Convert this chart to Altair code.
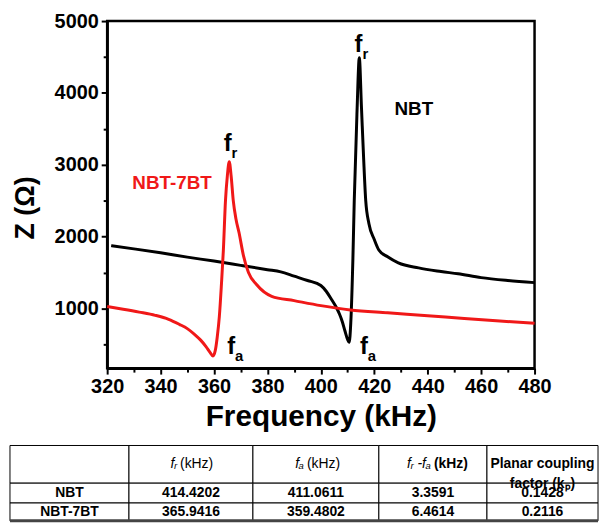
import altair as alt
import pandas as pd

FONT = "Liberation Sans"

# ---------------- impedance spectra ----------------
nbt_freq = [321.5, 330, 340, 350, 360, 370, 380, 385, 390, 395,
            400, 402, 404, 406, 407, 408, 409, 410, 410.6, 411.2,
            412, 412.5, 413.5, 414.4, 415.2, 416, 416.8, 418, 420, 421.7,
            425, 429, 436.6, 445, 451.4, 460, 470, 480]
nbt_z = [1875, 1830, 1775, 1715, 1660, 1600, 1540, 1510, 1450, 1390,
         1320, 1240, 1125, 1000, 920, 820, 690, 570, 530, 800,
         1700, 2500, 3700, 4490, 3800, 3100, 2500, 2180, 1960, 1815,
         1720, 1635, 1565, 1515, 1483, 1430, 1390, 1360]

bt7_freq = [320, 326, 332, 338, 343, 347, 350, 352.7, 355, 357,
            358.5, 359.6, 360.5, 361.2, 362, 362.8, 363.5, 364.3, 365, 365.7,
            366.4, 367.2, 368.2, 369.4, 371, 372.9, 376, 381.6, 390, 400,
            411, 425, 440, 453.7, 467, 480]
bt7_z = [1027, 990, 950, 905, 850, 780, 720, 640, 560, 470,
         390, 340, 420, 600, 890, 1350, 1810, 2505, 2850, 3043,
         2850, 2505, 2250, 2050, 1740, 1500, 1330, 1170, 1110, 1040,
         980, 940, 900, 860, 825, 795]

samples = ["NBT", "NBT-7BT"]
sample_colors = ["#000000", "#f01818"]

x_major = [320, 340, 360, 380, 400, 420, 440, 460, 480]
x_minor = [330, 350, 370, 390, 410, 430, 450, 470]
y_major = [1000, 2000, 3000, 4000, 5000]
y_minor = [500, 1500, 2500, 3500, 4500]

# sample name labels
name_text = ["NBT", "NBT-7BT"]
name_freq = [434.8, 344.3]
name_z = [3775, 2739]

# resonance / antiresonance labels ("f" + subscript)
peak_freq = [414.1, 365.1, 416.1, 366.4]
peak_z = [4666, 3285, 467, 460]
peak_sub = ["r", "r", "a", "a"]

# ---------------- table ----------------
table_header = ["", "fᵣ", "fₐ", "fᵣ -fₐ", "Planar coupling\nfactor (kₚ)"]
table_rows = ["NBT", "NBT-7BT"]
fr_vals = ["414.4202", "365.9416"]
fa_vals = ["411.0611", "359.4802"]
diff_vals = ["3.3591", "6.4614"]
kp_vals = ["0.1428", "0.2116"]

# relative cell widths / heights of the table grid
col_units = [120, 125, 127, 109, 112]
row_units = [38, 20, 18]

# ---------------- plot ----------------
lines_df = pd.DataFrame({
    "freq": nbt_freq + bt7_freq,
    "z": nbt_z + bt7_z,
    "sample": ["NBT"] * len(nbt_freq) + ["NBT-7BT"] * len(bt7_freq),
})
names_df = pd.DataFrame({"freq": name_freq, "z": name_z, "sample": name_text})
peaks_df = pd.DataFrame({"freq": peak_freq, "z": peak_z, "sub": peak_sub, "f": ["f"] * 4})

PLOT_W, PLOT_H = 431, 350
xscale = alt.Scale(domain=[320, 480], nice=False, zero=False)
yscale = alt.Scale(domain=[170, 5000], nice=False, zero=False)
color = alt.Color("sample:N", scale=alt.Scale(domain=samples, range=sample_colors), legend=None)

x_axis = alt.Axis(values=x_major, format="d", orient="bottom", title="Frequency (kHz)",
                  labelFont=FONT, labelFontSize=20, labelFontWeight="bold", labelColor="black",
                  labelFlush=False, labelPadding=3,
                  titleFont=FONT, titleFontSize=30, titleFontWeight="bold", titleColor="black",
                  titlePadding=5, tickSize=6, tickWidth=2, tickColor="black",
                  domainColor="black", domainWidth=2.5, grid=False)
y_axis = alt.Axis(values=y_major, format="d", orient="left", title="Z (Ω)",
                  labelFont=FONT, labelFontSize=20, labelFontWeight="bold", labelColor="black",
                  labelFlush=False, labelPadding=3,
                  titleFont=FONT, titleFontSize=27, titleFontWeight="bold", titleColor="black",
                  titlePadding=15, titleY=188, tickSize=6, tickWidth=2, tickColor="black",
                  domainColor="black", domainWidth=2.5, grid=False)
x_minor_axis = alt.Axis(values=x_minor, orient="bottom", labels=False, title=None, domain=False,
                        tickSize=4, tickWidth=2, tickColor="black", grid=False)
y_minor_axis = alt.Axis(values=y_minor, orient="left", labels=False, title=None, domain=False,
                        tickSize=4, tickWidth=2, tickColor="black", grid=False)

lines = alt.Chart(lines_df).mark_line(strokeWidth=3, interpolate="monotone").encode(
    x=alt.X("freq:Q", scale=xscale, axis=x_axis),
    y=alt.Y("z:Q", scale=yscale, axis=y_axis),
    color=color,
    detail="sample:N",
)
minor = alt.Chart(lines_df).mark_line(opacity=0).encode(
    x=alt.X("freq:Q", scale=xscale, axis=x_minor_axis),
    y=alt.Y("z:Q", scale=yscale, axis=y_minor_axis),
    detail="sample:N",
)
names = alt.Chart(names_df).mark_text(font=FONT, fontSize=19, fontWeight="bold").encode(
    x=alt.X("freq:Q", scale=xscale, axis=None),
    y=alt.Y("z:Q", scale=yscale, axis=None),
    text="sample:N",
    color=color,
)
f_main = alt.Chart(peaks_df).mark_text(font=FONT, fontSize=24, fontWeight="bold", color="black").encode(
    x=alt.X("freq:Q", scale=xscale, axis=None),
    y=alt.Y("z:Q", scale=yscale, axis=None),
    text="f:N",
)
f_sub = alt.Chart(peaks_df).mark_text(font=FONT, fontSize=15, fontWeight="bold", color="black",
                                      align="left", dx=4, dy=9).encode(
    x=alt.X("freq:Q", scale=xscale, axis=None),
    y=alt.Y("z:Q", scale=yscale, axis=None),
    text="sub:N",
)

plot = alt.layer(lines, minor, names, f_main, f_sub).resolve_axis(
    x="independent", y="independent"
)

# ---------------- table (drawn below the plot area) ----------------
col_edges = [sum(col_units[:i]) for i in range(len(col_units) + 1)]
row_edges = [sum(row_units[:i]) for i in range(len(row_units) + 1)]
cells = []
for r in range(len(row_units)):
    for c in range(len(col_units)):
        cells.append({"x0": col_edges[c], "x1": col_edges[c + 1],
                      "y0": row_edges[r], "y1": row_edges[r + 1]})
cells_df = pd.DataFrame(cells)
centers = [(col_edges[c] + col_edges[c + 1]) / 2 for c in range(len(col_units))]
row_mid = [(row_edges[r] + row_edges[r + 1]) / 2 for r in range(len(row_units))]

body = []
for i, name in enumerate(table_rows):
    for c, v in enumerate([name, fr_vals[i], fa_vals[i], diff_vals[i], kp_vals[i]]):
        body.append({"cx": centers[c], "cy": row_mid[i + 1], "t": v})
body_df = pd.DataFrame(body)

# header pieces: italic symbol part and "(kHz)" part
split_shift = [-12, -10, 0]
hdr_ital = pd.DataFrame({"cx": [centers[c + 1] + split_shift[c] - 2 for c in range(3)],
                         "cy": [row_mid[0]] * 3, "t": table_header[1:4]})
hdr_unit = pd.DataFrame({"cx": [centers[c + 1] + split_shift[c] + 1 for c in range(2)],
                         "cy": [row_mid[0]] * 2, "t": ["(kHz)"] * 2})
hdr_unit_b = pd.DataFrame({"cx": [centers[3] + split_shift[2] + 1], "cy": [row_mid[0]], "t": ["(kHz)"]})
hdr_kp = pd.DataFrame({"cx": [centers[4]], "cy": [row_mid[0]], "t": [table_header[4]]})

# table placement relative to the plot area (left edge of page margin, below the x title)
TABLE_LEFT, TABLE_TOP = -98, 428
tx = alt.Scale(domain=[0, col_edges[-1]], range=[TABLE_LEFT, TABLE_LEFT + col_edges[-1]], nice=False, zero=False)
ty = alt.Scale(domain=[0, row_edges[-1]], range=[TABLE_TOP, TABLE_TOP + row_edges[-1]], nice=False, zero=False)

rects = alt.Chart(cells_df).mark_rect(fill="white", stroke="black", strokeWidth=1).encode(
    x=alt.X("x0:Q", scale=tx, axis=None), x2="x1:Q",
    y=alt.Y("y0:Q", scale=ty, axis=None), y2="y1:Q",
)
bottom_line = alt.Chart(pd.DataFrame({"x0": [col_edges[0]], "x1": [col_edges[-1]], "y": [row_edges[-1]]})).mark_rule(
    color="#444444", strokeWidth=3).encode(
    x=alt.X("x0:Q", scale=tx, axis=None), x2="x1:Q",
    y=alt.Y("y:Q", scale=ty, axis=None),
)


def txt(df, **kw):
    return alt.Chart(df).mark_text(font=FONT, fontSize=14, color="black", **kw).encode(
        x=alt.X("cx:Q", scale=tx, axis=None),
        y=alt.Y("cy:Q", scale=ty, axis=None),
        text="t:N",
    )


table = alt.layer(
    rects, bottom_line,
    txt(body_df, fontWeight="bold"),
    txt(hdr_ital, fontStyle="italic", align="right"),
    txt(hdr_unit, align="left"),
    txt(hdr_unit_b, align="left", fontWeight="bold"),
    txt(hdr_kp, fontWeight="bold", lineBreak="\n", lineHeight=20),
)

chart = alt.layer(plot, table).resolve_scale(x="independent", y="independent").resolve_axis(
    x="independent", y="independent"
).properties(
    width=PLOT_W, height=PLOT_H,
    padding={"left": 0, "top": 1, "right": 0, "bottom": 0},
    view=alt.ViewBackground(stroke="black", strokeWidth=2.5),
)

chart.save("out.html", embed_options={"renderer": "svg", "actions": False})
